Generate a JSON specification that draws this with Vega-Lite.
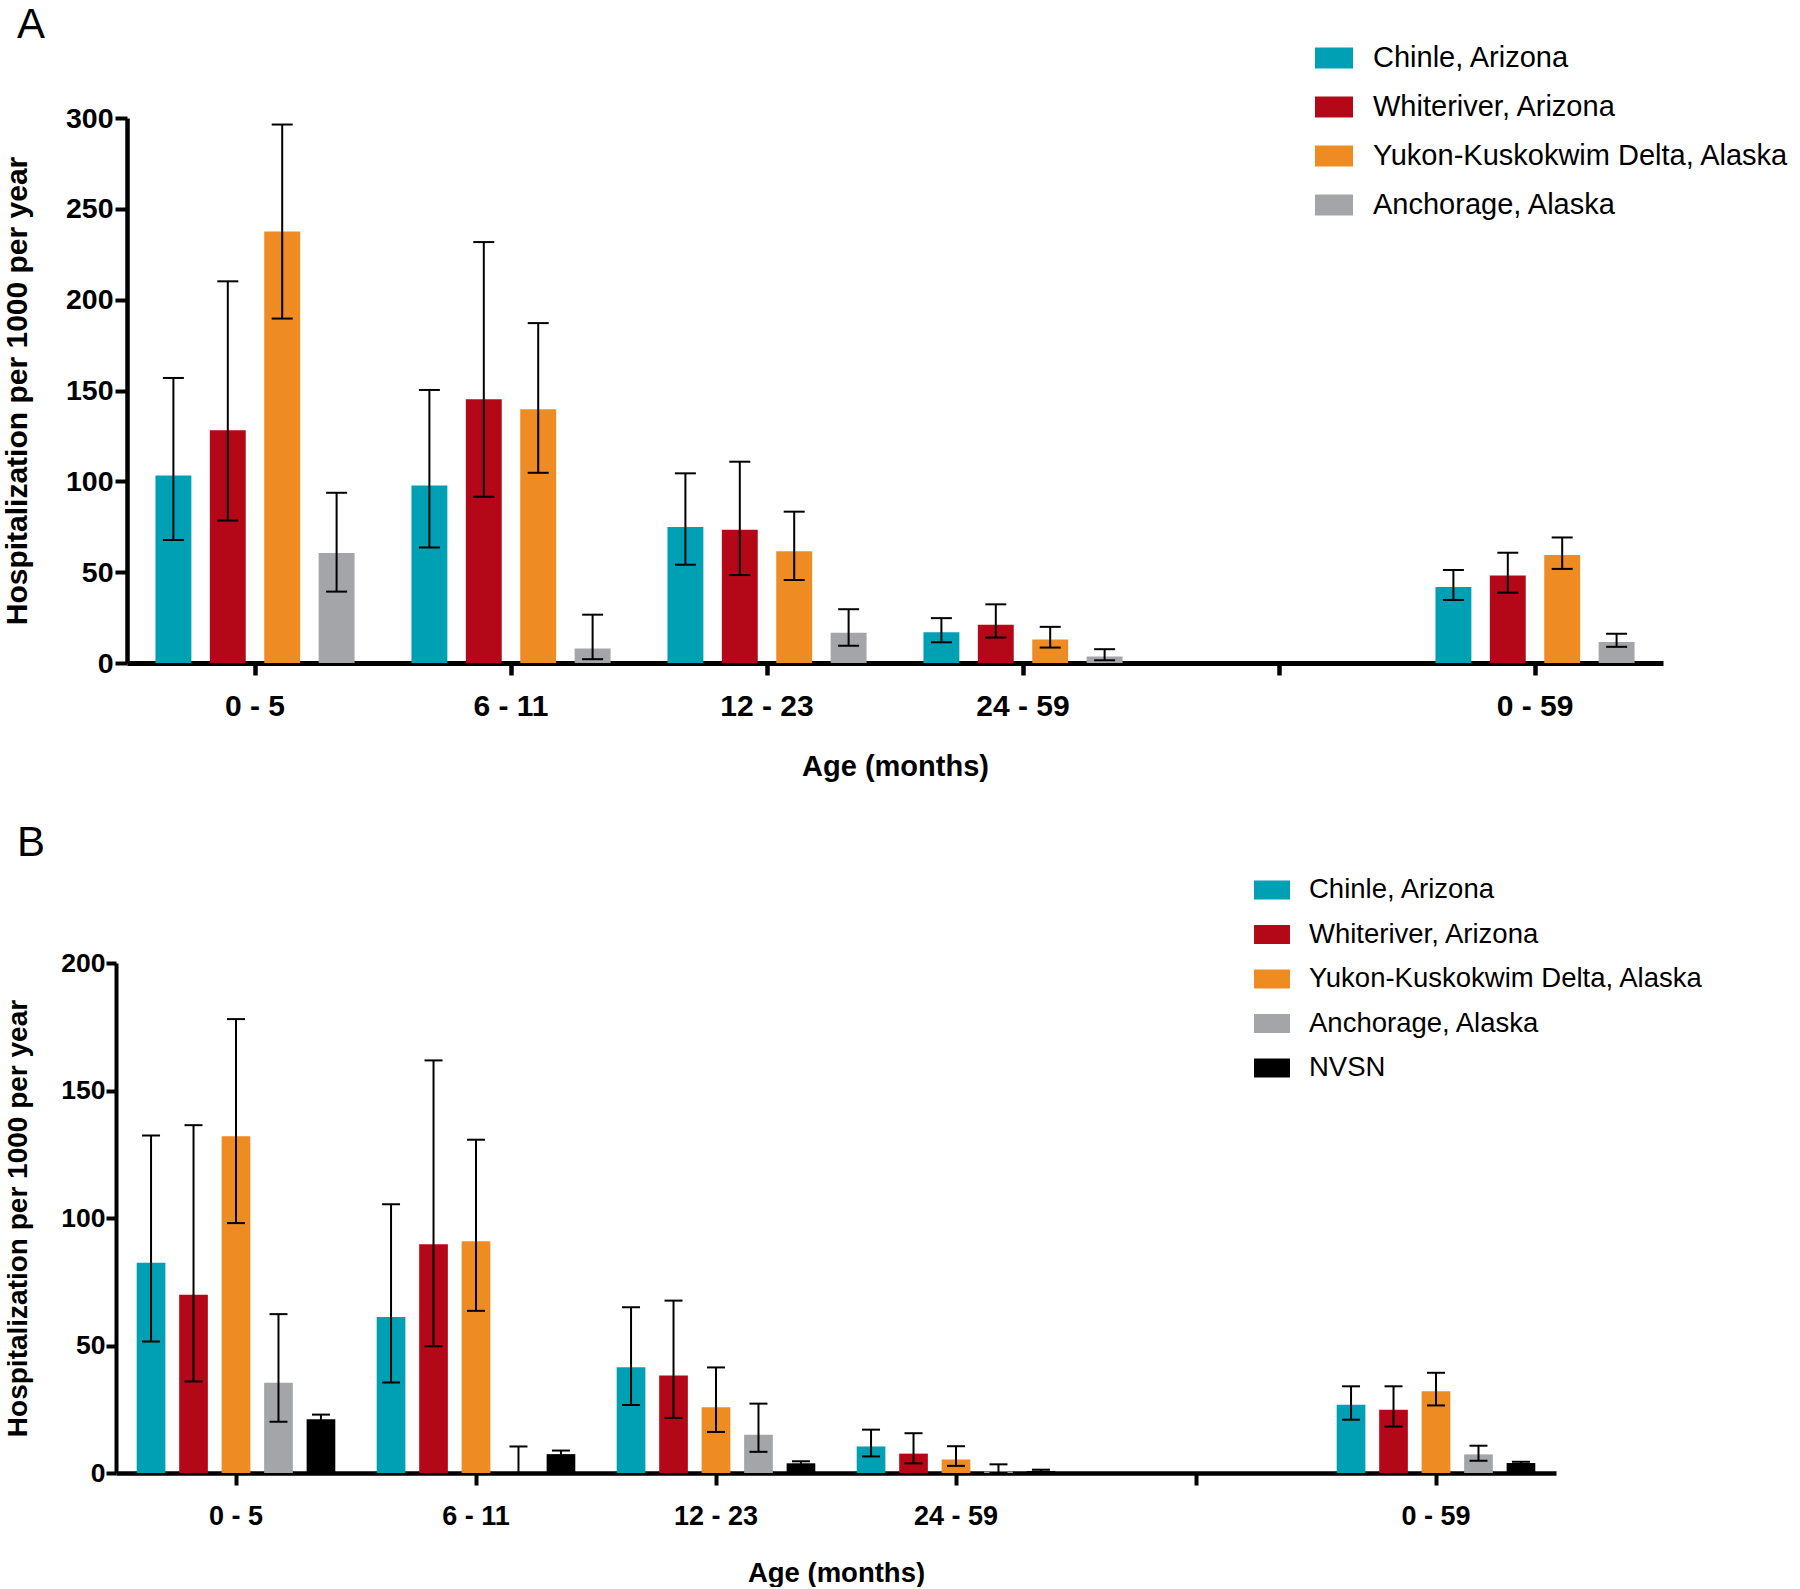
{
  "$schema": "https://vega.github.io/schema/vega-lite/v6.json",
  "padding": {"left": 2, "top": 4, "right": 0, "bottom": 0},
  "background": "white",
  "config": {
    "view": {"stroke": null},
    "font": "Liberation Sans",
    "axis": {"domainColor": "black", "tickColor": "black", "labelColor": "black", "titleColor": "black", "grid": false, "labelFontWeight": "bold", "titleFontWeight": "bold", "labelFont": "Liberation Sans", "titleFont": "Liberation Sans"},
    "legend": {"labelFont": "Liberation Sans", "labelColor": "black", "symbolStrokeWidth": 0, "symbolOpacity": 1, "labelLimit": 0, "padding": 0}
  },
  "data": {"values": [
    {"panel": "A", "age": "0 - 5", "site": "Chinle, Arizona", "value": 103.2, "lo": 67.7, "hi": 156.9},
    {"panel": "A", "age": "0 - 5", "site": "Whiteriver, Arizona", "value": 128.1, "lo": 78.4, "hi": 210.1},
    {"panel": "A", "age": "0 - 5", "site": "Yukon-Kuskokwim Delta, Alaska", "value": 237.5, "lo": 189.6, "hi": 296.4},
    {"panel": "A", "age": "0 - 5", "site": "Anchorage, Alaska", "value": 60.5, "lo": 39.3, "hi": 93.7},
    {"panel": "A", "age": "6 - 11", "site": "Chinle, Arizona", "value": 97.7, "lo": 63.6, "hi": 150.3},
    {"panel": "A", "age": "6 - 11", "site": "Whiteriver, Arizona", "value": 145.2, "lo": 91.5, "hi": 231.7},
    {"panel": "A", "age": "6 - 11", "site": "Yukon-Kuskokwim Delta, Alaska", "value": 139.7, "lo": 104.7, "hi": 187.1},
    {"panel": "A", "age": "6 - 11", "site": "Anchorage, Alaska", "value": 8.0, "lo": 2.1, "hi": 26.6},
    {"panel": "A", "age": "12 - 23", "site": "Chinle, Arizona", "value": 74.8, "lo": 54.1, "hi": 104.4},
    {"panel": "A", "age": "12 - 23", "site": "Whiteriver, Arizona", "value": 73.4, "lo": 48.4, "hi": 110.8},
    {"panel": "A", "age": "12 - 23", "site": "Yukon-Kuskokwim Delta, Alaska", "value": 61.5, "lo": 45.7, "hi": 83.3},
    {"panel": "A", "age": "12 - 23", "site": "Anchorage, Alaska", "value": 16.7, "lo": 9.5, "hi": 29.6},
    {"panel": "A", "age": "24 - 59", "site": "Chinle, Arizona", "value": 16.9, "lo": 11.4, "hi": 24.7},
    {"panel": "A", "age": "24 - 59", "site": "Whiteriver, Arizona", "value": 21.1, "lo": 14.0, "hi": 32.3},
    {"panel": "A", "age": "24 - 59", "site": "Yukon-Kuskokwim Delta, Alaska", "value": 12.9, "lo": 8.5, "hi": 19.9},
    {"panel": "A", "age": "24 - 59", "site": "Anchorage, Alaska", "value": 3.6, "lo": 1.5, "hi": 7.6},
    {"panel": "A", "age": "0 - 59", "site": "Chinle, Arizona", "value": 41.9, "lo": 34.7, "hi": 51.2},
    {"panel": "A", "age": "0 - 59", "site": "Whiteriver, Arizona", "value": 48.2, "lo": 38.7, "hi": 60.7},
    {"panel": "A", "age": "0 - 59", "site": "Yukon-Kuskokwim Delta, Alaska", "value": 59.4, "lo": 51.8, "hi": 69.1},
    {"panel": "A", "age": "0 - 59", "site": "Anchorage, Alaska", "value": 11.6, "lo": 8.9, "hi": 16.1},
    {"panel": "B", "age": "0 - 5", "site": "Chinle, Arizona", "value": 82.5, "lo": 51.6, "hi": 132.4},
    {"panel": "B", "age": "0 - 5", "site": "Whiteriver, Arizona", "value": 69.9, "lo": 35.9, "hi": 136.4},
    {"panel": "B", "age": "0 - 5", "site": "Yukon-Kuskokwim Delta, Alaska", "value": 132.1, "lo": 98.0, "hi": 178.0},
    {"panel": "B", "age": "0 - 5", "site": "Anchorage, Alaska", "value": 35.4, "lo": 20.1, "hi": 62.3},
    {"panel": "B", "age": "0 - 5", "site": "NVSN", "value": 21.1, "lo": 19.8, "hi": 22.9},
    {"panel": "B", "age": "6 - 11", "site": "Chinle, Arizona", "value": 61.2, "lo": 35.5, "hi": 105.4},
    {"panel": "B", "age": "6 - 11", "site": "Whiteriver, Arizona", "value": 89.7, "lo": 49.7, "hi": 161.8},
    {"panel": "B", "age": "6 - 11", "site": "Yukon-Kuskokwim Delta, Alaska", "value": 90.9, "lo": 63.6, "hi": 130.7},
    {"panel": "B", "age": "6 - 11", "site": "Anchorage, Alaska", "value": 0, "lo": 0, "hi": 10.4},
    {"panel": "B", "age": "6 - 11", "site": "NVSN", "value": 7.4, "lo": 6.3, "hi": 8.8},
    {"panel": "B", "age": "12 - 23", "site": "Chinle, Arizona", "value": 41.5, "lo": 26.7, "hi": 65.0},
    {"panel": "B", "age": "12 - 23", "site": "Whiteriver, Arizona", "value": 38.2, "lo": 21.6, "hi": 67.6},
    {"panel": "B", "age": "12 - 23", "site": "Yukon-Kuskokwim Delta, Alaska", "value": 25.8, "lo": 16.1, "hi": 41.4},
    {"panel": "B", "age": "12 - 23", "site": "Anchorage, Alaska", "value": 15.0, "lo": 8.3, "hi": 27.2},
    {"panel": "B", "age": "12 - 23", "site": "NVSN", "value": 3.8, "lo": 3.2, "hi": 4.6},
    {"panel": "B", "age": "24 - 59", "site": "Chinle, Arizona", "value": 10.4, "lo": 6.5, "hi": 17.0},
    {"panel": "B", "age": "24 - 59", "site": "Whiteriver, Arizona", "value": 7.6, "lo": 3.8, "hi": 15.6},
    {"panel": "B", "age": "24 - 59", "site": "Yukon-Kuskokwim Delta, Alaska", "value": 5.3, "lo": 2.8, "hi": 10.5},
    {"panel": "B", "age": "24 - 59", "site": "Anchorage, Alaska", "value": 0.6, "lo": 0, "hi": 3.4},
    {"panel": "B", "age": "24 - 59", "site": "NVSN", "value": 0.8, "lo": 0.5, "hi": 1.3},
    {"panel": "B", "age": "0 - 59", "site": "Chinle, Arizona", "value": 26.8, "lo": 20.9, "hi": 34.0},
    {"panel": "B", "age": "0 - 59", "site": "Whiteriver, Arizona", "value": 24.8, "lo": 18.2, "hi": 34.0},
    {"panel": "B", "age": "0 - 59", "site": "Yukon-Kuskokwim Delta, Alaska", "value": 32.1, "lo": 26.5, "hi": 39.3},
    {"panel": "B", "age": "0 - 59", "site": "Anchorage, Alaska", "value": 7.3, "lo": 4.8, "hi": 10.7},
    {"panel": "B", "age": "0 - 59", "site": "NVSN", "value": 3.9, "lo": 3.5, "hi": 4.4}
  ]},
  "spacing": 41,
  "resolve": {"scale": {"color": "independent", "x": "independent", "y": "independent", "xOffset": "independent"}, "legend": {"color": "independent"}},
  "vconcat": [
    {
      "title": {"text": "A", "anchor": "start", "frame": "group", "fontSize": 42, "fontWeight": "normal", "font": "Liberation Sans", "color": "black", "dx": -110, "offset": -8},
      "width": 1536,
      "height": 545,
      "transform": [{"filter": "datum.panel == 'A'"}],
      "encoding": {
        "x": {"field": "age", "type": "nominal", "sort": null, "title": "Age (months)",
          "scale": {"domain": ["0 - 5", "6 - 11", "12 - 23", "24 - 59", " ", "0 - 59"], "paddingInner": 0.15, "paddingOuter": 0.075},
          "axis": {"labelAngle": 0, "domainWidth": 5, "tickWidth": 4.5, "tickSize": 12, "labelFontSize": 30, "labelPadding": 16, "titleFontSize": 29, "titlePadding": 31}},
        "xOffset": {"field": "site", "type": "nominal",
          "scale": {"domain": ["Chinle, Arizona", "Whiteriver, Arizona", "Yukon-Kuskokwim Delta, Alaska", "Anchorage, Alaska"], "paddingInner": 0.34, "paddingOuter": 0.17}}
      },
      "layer": [
        {
          "mark": {"type": "bar"},
          "encoding": {
            "y": {"field": "value", "type": "quantitative", "title": "Hospitalization per 1000 per year",
              "scale": {"domain": [0, 300], "nice": false},
              "axis": {"values": [0, 50, 100, 150, 200, 250, 300], "domainWidth": 4.5, "tickWidth": 4, "tickSize": 12, "labelFontSize": 28.5, "labelPadding": 2, "titleFontSize": 30, "titlePadding": 33}},
            "color": {"field": "site", "type": "nominal",
              "scale": {"domain": ["Chinle, Arizona", "Whiteriver, Arizona", "Yukon-Kuskokwim Delta, Alaska", "Anchorage, Alaska"], "range": ["#00A0B4", "#B40818", "#EE8B23", "#A4A5A8"]},
              "legend": {"orient": "none", "legendX": 1188, "legendY": -79, "title": null, "symbolType": "M-1,-0.55L1,-0.55L1,0.55L-1,0.55Z", "symbolSize": 1444, "labelFontSize": 29, "labelOffset": 20, "rowPadding": 15}}
          }
        },
        {
          "mark": {"type": "rule", "color": "black", "strokeWidth": 2},
          "encoding": {"y": {"field": "lo", "type": "quantitative"}, "y2": {"field": "hi"}}
        },
        {
          "mark": {"type": "tick", "color": "black", "thickness": 2, "size": 21, "opacity": 1},
          "encoding": {"y": {"field": "lo", "type": "quantitative"}}
        },
        {
          "mark": {"type": "tick", "color": "black", "thickness": 2, "size": 21, "opacity": 1},
          "encoding": {"y": {"field": "hi", "type": "quantitative"}}
        }
      ]
    },
    {
      "title": {"text": "B", "anchor": "start", "frame": "group", "fontSize": 42, "fontWeight": "normal", "font": "Liberation Sans", "color": "black", "dx": -110, "offset": 7},
      "width": 1429,
      "height": 510,
      "transform": [{"filter": "datum.panel == 'B'"}],
      "encoding": {
        "x": {"field": "age", "type": "nominal", "sort": null, "title": "Age (months)",
          "scale": {"domain": ["0 - 5", "6 - 11", "12 - 23", "24 - 59", " ", "0 - 59"], "paddingInner": 0.115, "paddingOuter": 0.0575, "range": [-11, 1429]},
          "axis": {"labelAngle": 0, "domainWidth": 4.5, "tickWidth": 4, "tickSize": 12, "labelFontSize": 27, "labelPadding": 18, "titleFontSize": 27.5, "titlePadding": 30}},
        "xOffset": {"field": "site", "type": "nominal",
          "scale": {"domain": ["Chinle, Arizona", "Whiteriver, Arizona", "Yukon-Kuskokwim Delta, Alaska", "Anchorage, Alaska", "NVSN"], "paddingInner": 0.325, "paddingOuter": 0.1625}}
      },
      "layer": [
        {
          "mark": {"type": "bar"},
          "encoding": {
            "y": {"field": "value", "type": "quantitative", "title": "Hospitalization per 1000 per year",
              "scale": {"domain": [0, 200], "nice": false},
              "axis": {"values": [0, 50, 100, 150, 200], "offset": 11, "domainWidth": 4, "tickWidth": 4, "tickSize": 10, "labelFontSize": 26.5, "labelPadding": 1, "titleFontSize": 28, "titlePadding": 28}},
            "color": {"field": "site", "type": "nominal",
              "scale": {"domain": ["Chinle, Arizona", "Whiteriver, Arizona", "Yukon-Kuskokwim Delta, Alaska", "Anchorage, Alaska", "NVSN"], "range": ["#00A0B4", "#B40818", "#EE8B23", "#A4A5A8", "#000000"]},
              "legend": {"orient": "none", "legendX": 1127, "legendY": -91, "title": null, "symbolType": "M-1,-0.53L1,-0.53L1,0.53L-1,0.53Z", "symbolSize": 1296, "labelFontSize": 27.5, "labelOffset": 19, "rowPadding": 12.5}}
          }
        },
        {
          "mark": {"type": "rule", "color": "black", "strokeWidth": 2},
          "encoding": {"y": {"field": "lo", "type": "quantitative"}, "y2": {"field": "hi"}}
        },
        {
          "mark": {"type": "tick", "color": "black", "thickness": 2, "size": 18, "opacity": 1},
          "encoding": {"y": {"field": "lo", "type": "quantitative"}}
        },
        {
          "mark": {"type": "tick", "color": "black", "thickness": 2, "size": 18, "opacity": 1},
          "encoding": {"y": {"field": "hi", "type": "quantitative"}}
        }
      ]
    }
  ]
}
